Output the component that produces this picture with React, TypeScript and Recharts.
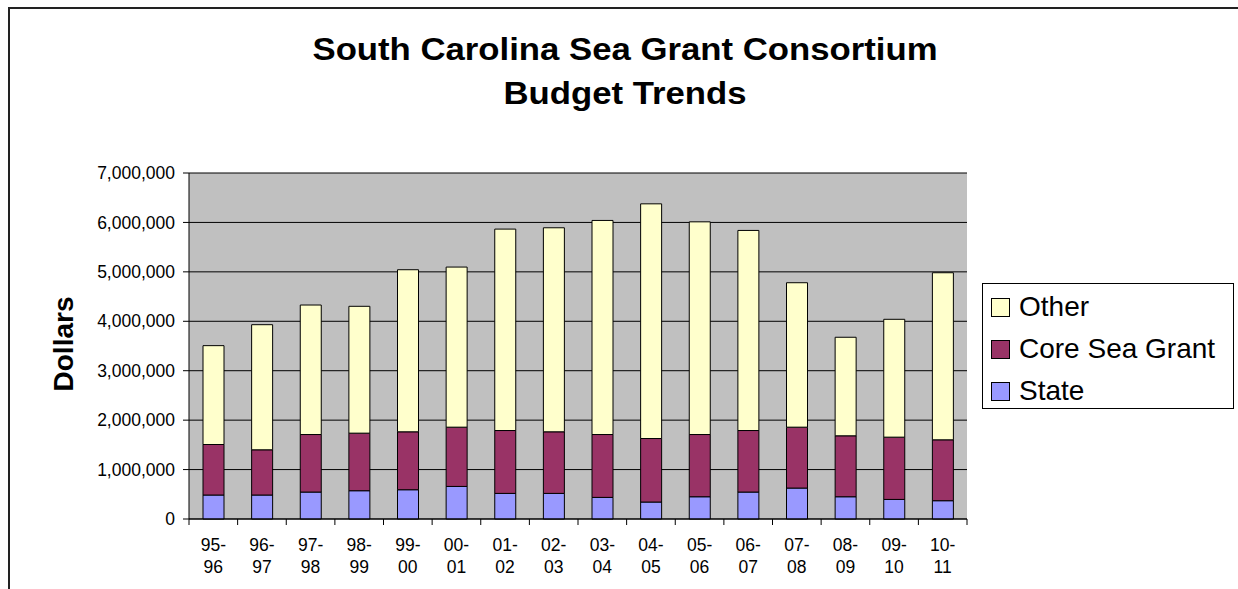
import React from "react";
import { BarChart, Bar, XAxis, YAxis, CartesianGrid } from "recharts";

const CATEGORIES = [
  "95-96", "96-97", "97-98", "98-99", "99-00", "00-01", "01-02", "02-03",
  "03-04", "04-05", "05-06", "06-07", "07-08", "08-09", "09-10", "10-11",
];
const STATE = [
  485000, 485000, 545000, 572000, 592000, 659000, 518000, 518000,
  437000, 343000, 450000, 545000, 626000, 450000, 396000, 370000,
];
const CORE = [
  1022000, 915000, 1164000, 1165000, 1172000, 1199000, 1272000, 1246000,
  1272000, 1285000, 1259000, 1245000, 1232000, 1233000, 1260000, 1232000,
];
const OTHER = [
  2000000, 2531000, 2620000, 2566000, 3279000, 3239000, 4075000, 4128000,
  4331000, 4748000, 4303000, 4048000, 2922000, 1994000, 2384000, 3380000,
];
const Y_TICKS = [0, 1000000, 2000000, 3000000, 4000000, 5000000, 6000000, 7000000];

const SERIES = [
  { key: "state", name: "State", color: "#9999FF" },
  { key: "core", name: "Core Sea Grant", color: "#993366" },
  { key: "other", name: "Other", color: "#FFFFCC" },
];

const FONT = '"Liberation Sans", Arial, sans-serif';

const data = CATEGORIES.map((name, i) => ({
  name,
  state: STATE[i],
  core: CORE[i],
  other: OTHER[i],
}));

function CategoryTick(props: any) {
  const { x, y, payload, index, visibleTicksCount } = props;
  const [a, b] = String(payload.value).split("-");
  const half = payload.offset ?? 0;
  const axisY = y - 8;
  return (
    <g>
      <line x1={x - half} x2={x - half} y1={axisY} y2={axisY + 6} stroke="#000" />
      {index === visibleTicksCount - 1 && (
        <line x1={x + half} x2={x + half} y1={axisY} y2={axisY + 6} stroke="#000" />
      )}
      <text x={x} y={axisY + 32} textAnchor="middle" fontSize={17.5} fill="#000" fontFamily={FONT}>
        {a}-
      </text>
      <text x={x} y={axisY + 54} textAnchor="middle" fontSize={17.5} fill="#000" fontFamily={FONT}>
        {b}
      </text>
    </g>
  );
}

export default function App() {
  return (
    <div
      style={{
        position: "fixed",
        left: 0,
        top: 0,
        width: 1238,
        height: 589,
        overflow: "hidden",
        background: "#fff",
        fontFamily: FONT,
      }}
    >
      <div
        style={{
          position: "absolute",
          left: 8,
          top: 7,
          right: -10,
          bottom: -10,
          border: "2px solid #222",
        }}
      />
      <div
        style={{
          position: "absolute",
          left: 0,
          top: 28,
          width: 1250,
          textAlign: "center",
          fontWeight: "bold",
          fontSize: 31,
          lineHeight: "44px",
          transform: "scaleX(1.12)",
          transformOrigin: "625px 0",
        }}
      >
        South Carolina Sea Grant Consortium
        <br />
        Budget Trends
      </div>

      <BarChart
        width={1238}
        height={589}
        data={data}
        margin={{ top: 173, right: 271, bottom: 10, left: 0 }}
        style={{ position: "absolute", left: 0, top: 0 }}
      >
        <CartesianGrid vertical={false} stroke="#000" fill="#C0C0C0" fillOpacity={1} />
        <XAxis
          dataKey="name"
          height={60}
          interval={0}
          tickLine={false}
          tickSize={6}
          tickMargin={2}
          axisLine={{ stroke: "#000" }}
          tick={<CategoryTick />}
        />
        <YAxis
          width={189}
          domain={[0, 7000000]}
          ticks={Y_TICKS}
          tickSize={6}
          tickMargin={8}
          axisLine={{ stroke: "#000" }}
          tickLine={{ stroke: "#000" }}
          tick={{ fill: "#000", fontSize: 17.5, fontFamily: FONT }}
          tickFormatter={(v: number) => v.toLocaleString("en-US")}
        />
        <YAxis
          yAxisId="edge"
          orientation="right"
          width={0}
          domain={[0, 7000000]}
          tick={false}
          tickLine={false}
          axisLine={{ stroke: "#808080" }}
        />
        {SERIES.map((s) => (
          <Bar
            key={s.key}
            dataKey={s.key}
            name={s.name}
            stackId="a"
            fill={s.color}
            stroke="#000"
            strokeWidth={1}
            barSize={21}
            isAnimationActive={false}
          />
        ))}
      </BarChart>

      <svg
        width={1238}
        height={589}
        style={{ position: "absolute", left: 0, top: 0, pointerEvents: "none" }}
      >
        <text
          x={73}
          y={344}
          transform="rotate(-90 73 344)"
          textAnchor="middle"
          fontWeight="bold"
          fontSize={28}
          fontFamily={FONT}
          fill="#000"
        >
          Dollars
        </text>
      </svg>

      <div
        style={{
          position: "absolute",
          left: 982,
          top: 283,
          width: 252,
          height: 126,
          boxSizing: "border-box",
          border: "1px solid #000",
          background: "#fff",
          paddingTop: 2,
          paddingLeft: 8,
        }}
      >
        {[...SERIES].reverse().map((s) => (
          <div
            key={s.key}
            style={{ height: 42, display: "flex", alignItems: "center", fontSize: 28 }}
          >
            <span
              style={{
                width: 19,
                height: 19,
                boxSizing: "border-box",
                border: "1px solid #000",
                background: s.color,
                marginRight: 9,
                flexShrink: 0,
              }}
            />
            <span style={{ whiteSpace: "nowrap" }}>{s.name}</span>
          </div>
        ))}
      </div>
    </div>
  );
}
